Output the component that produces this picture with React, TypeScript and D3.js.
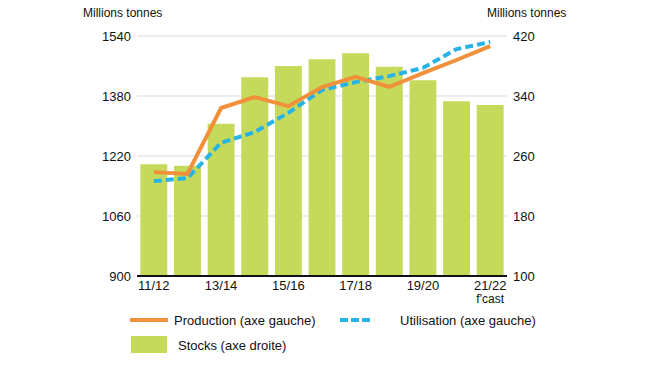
import React from "react";
import * as d3 from "d3";

const seasons = ["11/12", "12/13", "13/14", "14/15", "15/16", "16/17", "17/18", "18/19", "19/20", "20/21", "21/22"];
const tickSeasons = ["11/12", "13/14", "15/16", "17/18", "19/20", "21/22"];
const production = [1177, 1172, 1348, 1377, 1353, 1404, 1431, 1404, 1441, 1476, 1513];
const utilisation = [1153, 1161, 1255, 1284, 1335, 1396, 1417, 1433, 1455, 1505, 1524];
const stocks = [249, 247, 303, 365, 380, 389, 397, 379, 361, 333, 328];
const leftTicks = [900, 1060, 1220, 1380, 1540];
const rightTicks = [100, 180, 260, 340, 420];

const W = 650;
const H = 366;
const margin = { top: 36, right: 143, bottom: 90, left: 137 };
const font = "'Liberation Sans', Arial, sans-serif";

export default function App() {
  const x = d3
    .scaleBand()
    .domain(seasons)
    .range([margin.left, W - margin.right])
    .paddingInner(0.2)
    .paddingOuter(0.1);

  const yL = d3.scaleLinear().domain([900, 1540]).range([H - margin.bottom, margin.top]);
  const yR = d3.scaleLinear().domain([100, 420]).range([H - margin.bottom, margin.top]);

  const cx = (i: number) => (x(seasons[i]) as number) + x.bandwidth() / 2;
  const line = d3
    .line<number>()
    .x((_, i) => cx(i))
    .y((d) => yL(d));

  const x0 = margin.left;
  const x1 = W - margin.right;
  const base = yL(900);

  return (
    <svg
      width={W}
      height={H}
      style={{ position: "absolute", left: 0, top: 0, background: "#fff" }}
      fontFamily={font}
    >
      {/* grid */}
      {leftTicks.slice(1).map((t) => (
        <line key={t} x1={x0} x2={x1} y1={yL(t)} y2={yL(t)} stroke="#dcdcdc" strokeWidth={1.2} />
      ))}

      {/* bars */}
      {stocks.map((v, i) => (
        <rect
          key={seasons[i]}
          x={x(seasons[i])}
          y={yR(v)}
          width={x.bandwidth()}
          height={base - yR(v)}
          fill="#c5d95a"
        />
      ))}

      <path d={line(utilisation) || ""} fill="none" stroke="#27b3e6" strokeWidth={4} strokeDasharray="8,4" />
      <path d={line(production) || ""} fill="none" stroke="#f0903a" strokeWidth={4} strokeLinejoin="miter" />

      {/* baseline */}
      <line x1={x0} x2={x1} y1={base} y2={base} stroke="#111" strokeWidth={2} />

      {/* left axis */}
      {leftTicks.map((t) => (
        <text key={t} x={131} y={yL(t)} dy="0.35em" textAnchor="end" fontSize={13} fill="#111">
          {t}
        </text>
      ))}
      <text x={83} y={17} fontSize={12} fill="#111">Millions tonnes</text>

      {/* right axis */}
      {rightTicks.map((t) => (
        <text key={t} x={513} y={yR(t)} dy="0.35em" textAnchor="start" fontSize={13} fill="#111">
          {t}
        </text>
      ))}
      <text x={487} y={17} fontSize={12} fill="#111">Millions tonnes</text>

      {/* x axis labels */}
      {tickSeasons.map((s) => (
        <text
          key={s}
          x={(x(s) as number) + x.bandwidth() / 2}
          y={base + 14}
          textAnchor="middle"
          fontSize={13}
          fill="#111"
        >
          {s}
        </text>
      ))}
      <text
        x={(x("21/22") as number) + x.bandwidth() / 2}
        y={base + 27}
        textAnchor="middle"
        fontSize={12}
        fill="#111"
      >
        f'cast
      </text>

      {/* legend */}
      <line x1={130} x2={168} y1={320} y2={320} stroke="#f0903a" strokeWidth={4} />
      <text x={174} y={320} dy="0.35em" fontSize={13} fill="#111">Production (axe gauche)</text>
      <line x1={340} x2={372} y1={320} y2={320} stroke="#27b3e6" strokeWidth={4} strokeDasharray="8,3" />
      <text x={400} y={320} dy="0.35em" fontSize={13} fill="#111">Utilisation (axe gauche)</text>
      <rect x={131} y={336} width={36} height={17} fill="#c5d95a" />
      <text x={178} y={345} dy="0.35em" fontSize={13} fill="#111">Stocks (axe droite)</text>
    </svg>
  );
}
